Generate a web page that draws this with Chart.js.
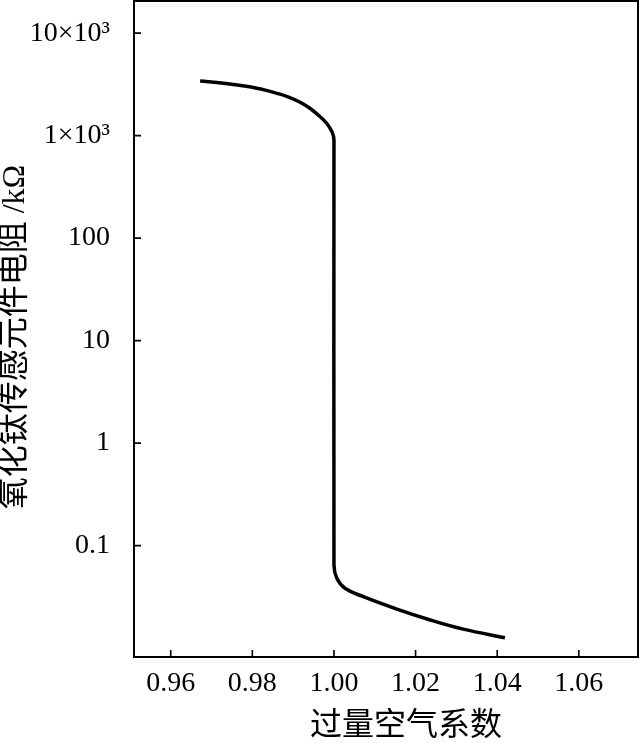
<!DOCTYPE html>
<html>
<head>
<meta charset="utf-8">
<script src="https://cdn.jsdelivr.net/npm/chart.js@4.4.1/dist/chart.umd.min.js"></script>
<style>
  body { margin: 0; background: #fff; }
  #wrap { width: 641px; height: 743px; }
</style>
</head>
<body>
<div id="wrap"><canvas id="sensorChart" width="641" height="743"></canvas></div>
<script>
// Data (excess air ratio vs. TiO2 element resistance, kΩ)
const lambdaValues = [0.9672, 0.9729, 0.9811, 0.9866, 0.9892, 0.9917, 0.9941, 0.9966, 0.9982, 0.9995, 1.0000,
    1.0000, 1.0007, 1.0027, 1.0072, 1.0154, 1.0236, 1.0317, 1.0419];
const resistanceValues = [3420, 3243, 2902, 2553, 2350, 2118, 1849, 1531, 1321, 1094, 908,
    0.0646, 0.0480, 0.0383, 0.0317, 0.0240, 0.0188, 0.0153, 0.0126];

// Axis ticks
const xTicks = [0.96, 0.98, 1.00, 1.02, 1.04, 1.06];
const yTicks = [0.1, 1, 10, 100, 1000, 10000];
const yTickLabels = ['0.1', '1', '10', '100', '1×10³', '10×10³'];

const points = lambdaValues.map((x, i) => ({ x: x, y: resistanceValues[i] }));

// Draw the frame and inward tick marks
const frameTicks = {
    id: 'frameTicks',
    afterDraw(chart) {
        const { ctx, chartArea: a, scales } = chart;
        ctx.save();
        ctx.strokeStyle = '#000';
        ctx.lineWidth = 1.6;
        ctx.beginPath();
        scales.x.ticks.forEach(t => {
            const px = scales.x.getPixelForValue(t.value);
            ctx.moveTo(px, a.bottom);
            ctx.lineTo(px, a.bottom - 7);
        });
        scales.y.ticks.forEach(t => {
            const py = scales.y.getPixelForValue(t.value);
            ctx.moveTo(a.left, py);
            ctx.lineTo(a.left + 7, py);
        });
        ctx.stroke();
        ctx.lineWidth = 2;
        ctx.strokeRect(a.left, a.top, a.right - a.left, a.bottom - a.top);
        ctx.restore();
    }
};

// no extra label padding at the axis ends
function noPad(scale) {
    scale.paddingTop = 0;
    scale.paddingBottom = 0;
    scale.paddingLeft = 0;
    scale.paddingRight = 0;
}

const ctx = document.getElementById('sensorChart').getContext('2d');
new Chart(ctx, {
    type: 'line',
    data: {
        datasets: [{
            data: points,
            borderColor: '#000',
            borderWidth: 3.5,
            pointRadius: 0,
            tension: 0.4,
            fill: false
        }]
    },
    options: {
        responsive: false,
        animation: false,
        layout: { padding: { top: 1, right: 3, left: 0, bottom: 0 } },
        plugins: {
            legend: { display: false },
            tooltip: { enabled: false }
        },
        scales: {
            x: {
                type: 'linear',
                min: 0.951,
                max: 1.0745,
                grid: { display: false },
                border: { display: false },
                afterBuildTicks: scale => {
                    scale.ticks = xTicks.map(v => ({ value: v }));
                },
                afterFit: scale => { scale.height = 86; noPad(scale); },
                ticks: {
                    autoSkip: false,
                    maxRotation: 0,
                    padding: 2,
                    color: '#000',
                    font: { family: "'Liberation Serif', serif", size: 28 },
                    callback: value => value.toFixed(2)
                },
                title: {
                    display: true,
                    text: '\u3000 过量空气系数',
                    color: '#000',
                    padding: 0,
                    font: { family: "'Liberation Serif', 'Noto Sans CJK SC', serif", size: 32, lineHeight: 1 }
                }
            },
            y: {
                type: 'logarithmic',
                min: 0.00818,
                max: 20600,
                grid: { display: false },
                border: { display: false },
                afterBuildTicks: scale => {
                    scale.ticks = yTicks.map(v => ({ value: v }));
                },
                afterFit: scale => { scale.width = 134; noPad(scale); },
                ticks: {
                    autoSkip: false,
                    padding: 16,
                    color: '#000',
                    font: { family: "'Liberation Serif', serif", size: 28 },
                    callback: (value, index) => yTickLabels[index]
                },
                title: {
                    display: true,
                    text: '氧化钛传感元件电阻 /kΩ  ',
                    color: '#000',
                    padding: 0,
                    font: { family: "'Liberation Serif', 'Noto Sans CJK SC', serif", size: 32, lineHeight: 1 }
                }
            }
        }
    },
    plugins: [frameTicks]
});
</script>
</body>
</html>
